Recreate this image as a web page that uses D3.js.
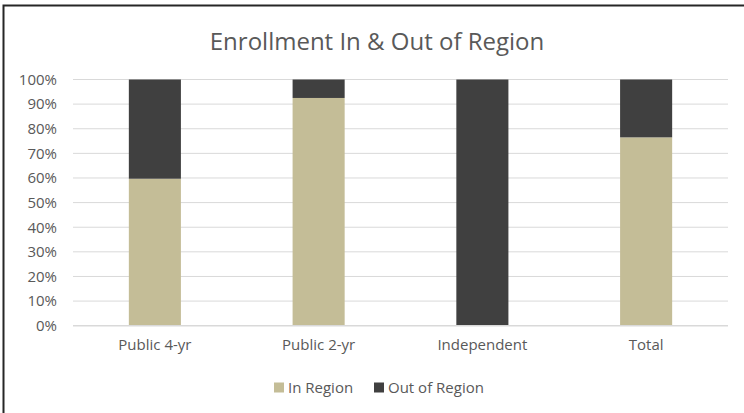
<!DOCTYPE html>
<html><head><meta charset="utf-8">
<script src="https://cdn.jsdelivr.net/npm/d3@7"></script>
<style>body{margin:0;background:#fff;}svg{display:block;}</style>
</head><body>
<svg id="c" width="744" height="413"></svg>
<script>
const categories = ["Public 4-yr", "Public 2-yr", "Independent", "Total"];
const inRegion = [0.597, 0.925, 0.0, 0.765];
const outRegion = [0.403, 0.075, 1.0, 0.235];
const seriesNames = ["In Region", "Out of Region"];
const seriesColors = ["#C4BD97", "#404040"];
const yTicks = [0,0.1,0.2,0.3,0.4,0.5,0.6,0.7,0.8,0.9,1.0];
const title = "Enrollment In & Out of Region";

const svg = d3.select("#c");
const font = "'Open Sans', 'Noto Sans', sans-serif";
// frame
svg.append("rect").attr("x",3.5).attr("y",5.5).attr("width",760).attr("height",430)
  .attr("fill","none").attr("stroke","#262626").attr("stroke-width",2);

const margin = {left:73, right:16, top:79.5, bottom:87.3};
const W = 744, H = 413;
const x = d3.scaleBand().domain(categories).range([margin.left, W-margin.right]).paddingInner(0.682).paddingOuter(0.341);
const y = d3.scaleLinear().domain([0,1]).range([H-margin.bottom, margin.top]);

// gridlines
svg.append("g").selectAll("line").data(yTicks.slice(1)).join("line")
  .attr("x1",margin.left).attr("x2",W-margin.right)
  .attr("y1",d=>y(d)).attr("y2",d=>y(d))
  .attr("stroke","#D9D9D9").attr("stroke-width",1);

const data = categories.map((c,i)=>({cat:c, "In Region":inRegion[i], "Out of Region":outRegion[i]}));
const stack = d3.stack().keys(seriesNames)(data);
svg.append("g").selectAll("g").data(stack).join("g")
  .attr("fill",(d,i)=>seriesColors[i])
  .selectAll("rect").data(d=>d).join("rect")
  .attr("x",d=>x(d.data.cat)).attr("width",x.bandwidth())
  .attr("y",d=>y(d[1])).attr("height",d=>Math.max(0,y(d[0])-y(d[1])));

// baseline
svg.append("line").attr("x1",margin.left).attr("x2",W-margin.right)
  .attr("y1",y(0)).attr("y2",y(0)).attr("stroke","#D9D9D9").attr("stroke-width",1.5);

// y axis labels
const ya = svg.append("g").attr("transform",`translate(${margin.left-16},0)`)
  .call(d3.axisLeft(y).tickValues(yTicks).tickFormat(d3.format(".0%")).tickSize(0).tickPadding(0));
ya.select(".domain").remove();
ya.selectAll("text").attr("font-family",font).attr("font-size",15).attr("fill","#595959");

// x axis labels
const xa = svg.append("g").attr("transform",`translate(0,${y(0)+14})`)
  .call(d3.axisBottom(x).tickSize(0).tickPadding(0));
xa.select(".domain").remove();
xa.selectAll("text").attr("font-family",font).attr("font-size",15).attr("fill","#595959");

// title
svg.append("text").attr("x",377).attr("y",50).attr("text-anchor","middle")
  .attr("font-family",font).attr("font-size",24).attr("fill","#595959").text(title);

// legend
const legX = [274, 374];
const lg = svg.append("g");
seriesNames.forEach((n,i)=>{
  lg.append("rect").attr("x",legX[i]).attr("y",382.5).attr("width",10).attr("height",10).attr("fill",seriesColors[i]);
  lg.append("text").attr("x",legX[i]+14).attr("y",392.5).attr("font-family",font).attr("font-size",15)
    .attr("fill","#595959").text(n);
});
</script>
</body></html>
